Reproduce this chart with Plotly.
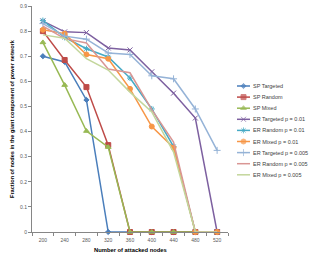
import plotly.graph_objects as go

attacked = ["200", "240", "280", "320", "360", "400", "440", "480", "520"]

sp_targeted = [0.70, 0.677, 0.526, 0, 0, 0, 0, 0, 0]
sp_random = [0.80, 0.685, 0.577, 0.346, 0, 0, 0, 0, 0]
sp_mixed = [0.755, 0.585, 0.402, 0.338, 0, 0, 0, 0, 0]
er_targeted_01 = [0.84, 0.797, 0.794, 0.733, 0.725, 0.638, 0.553, 0.454, 0]
er_random_01 = [0.842, 0.775, 0.73, 0.697, 0.613, 0.49, 0.34, 0, 0]
er_mixed_01 = [0.805, 0.79, 0.707, 0.69, 0.57, 0.42, 0.336, 0, 0]
er_targeted_005 = [0.83, 0.78, 0.768, 0.713, 0.707, 0.622, 0.61, 0.49, 0.325]
er_random_005 = [0.82, 0.77, 0.753, 0.649, 0.634, 0.487, 0.358, 0, 0]
er_mixed_005 = [0.785, 0.772, 0.69, 0.645, 0.557, 0.478, 0.318, 0, 0]

y_ticks = [0, 0.1, 0.2, 0.3, 0.4, 0.5, 0.6, 0.7, 0.8, 0.9]
y_tick_labels = ["0", "0.1", "0.2", "0.3", "0.4", "0.5", "0.6", "0.7", "0.8", "0.9"]

names = ["SP Targeted", "SP Random", "SP Mixed",
         "ER Targeted p = 0.01", "ER Random p = 0.01", "ER Mixed p = 0.01",
         "ER Targeted p = 0.005", "ER Random p = 0.005", "ER Mixed p = 0.005"]
values = [sp_targeted, sp_random, sp_mixed, er_targeted_01, er_random_01,
          er_mixed_01, er_targeted_005, er_random_005, er_mixed_005]
colors = ["#4A7EBB", "#BE4B48", "#98B954", "#7D60A0", "#46AAC5", "#F79646",
          "#95B3D7", "#D99694", "#C3D69B"]
symbols = ["diamond", "square", "triangle-up", "x-thin-open", "asterisk-open",
           "circle", "cross-thin-open", None, None]
msizes = [4, 5, 5, 5, 5, 5, 5, 0, 0]

fig = go.Figure()
for n, v, c, s, ms in zip(names, values, colors, symbols, msizes):
    fig.add_trace(go.Scatter(
        x=attacked, y=v, name=n,
        mode="lines+markers" if s else "lines",
        line=dict(color=c, width=1.5),
        marker=dict(symbol=s or "circle", size=ms, color=c,
                    line=dict(color=c, width=1)),
        cliponaxis=False, showlegend=False,
        xaxis="x", yaxis="y",
    ))

# custom legend in a pixel-unit overlay area on the right
row0, row_step = 86, 11.1
for i, (n, c, s, ms) in enumerate(zip(names, colors, symbols, msizes)):
    yy = row0 + row_step * i
    fig.add_trace(go.Scatter(
        x=[237, 243.5, 250], y=[yy, yy, yy],
        mode="lines+markers" if s else "lines",
        line=dict(color=c, width=1.5),
        marker=dict(symbol=s or "circle", size=[0, ms, 0], color=c,
                    line=dict(color=c, width=1)),
        showlegend=False, hoverinfo="skip", cliponaxis=False,
        xaxis="x2", yaxis="y2",
    ))
    fig.add_annotation(x=251, y=yy, xref="x2", yref="y2", text=n,
                       showarrow=False, xanchor="left", yanchor="middle",
                       font=dict(size=5.5, color="#404040"))

W, H = 313, 262
ml, mr, mt, mb = 32, 0, 6, 30
plot_right = 228
dom = (plot_right - ml) / (W - ml - mr)

axis_grey = "#868686"
fig.update_layout(
    width=W, height=H,
    margin=dict(l=ml, r=mr, t=mt, b=mb),
    paper_bgcolor="white", plot_bgcolor="white",
    font=dict(family="Liberation Sans, Arial, sans-serif", size=5, color="#595959"),
    xaxis=dict(type="category", domain=[0, dom], range=[-0.5, 8.5],
               showline=True, linecolor=axis_grey, linewidth=1,
               ticks="outside", ticklen=3, tickcolor=axis_grey,
               tickson="boundaries", showgrid=False, zeroline=False,
               ticklabelstandoff=3,
               tickfont=dict(size=5, color="#595959")),
    yaxis=dict(range=[0, 0.9], tickvals=y_ticks, ticktext=y_tick_labels,
               showline=True, linecolor=axis_grey, linewidth=1,
               ticks="outside", ticklen=3, tickcolor=axis_grey,
               showgrid=False, zeroline=False,
               tickfont=dict(size=5, color="#595959")),
    xaxis2=dict(domain=[dom, 1], range=[plot_right, W], visible=False,
                anchor="y2", fixedrange=True),
    yaxis2=dict(domain=[0, 1], range=[H - mb, mt], visible=False,
                anchor="x2", fixedrange=True),
    annotations=list(fig.layout.annotations) + [
        dict(text="<b>Number of attacked nodes</b>", xref="paper", yref="paper",
             x=dom / 2, y=-(250 - (H - mb)) / (H - mt - mb),
             showarrow=False, xanchor="center", yanchor="middle",
             font=dict(size=5.8, color="#000000")),
        dict(text="<b>Fraction of nodes in the giant component of power network</b>",
             xref="paper", yref="paper", textangle=-90,
             x=-(ml - 12) / (W - ml - mr), y=0.5,
             showarrow=False, xanchor="center", yanchor="middle",
             font=dict(size=5.6, color="#000000")),
    ],
)

fig.write_html(
    "out.html",
    config={"displayModeBar": False},
    post_script="document.body.style.margin='0';document.body.style.overflow='hidden';",
)
